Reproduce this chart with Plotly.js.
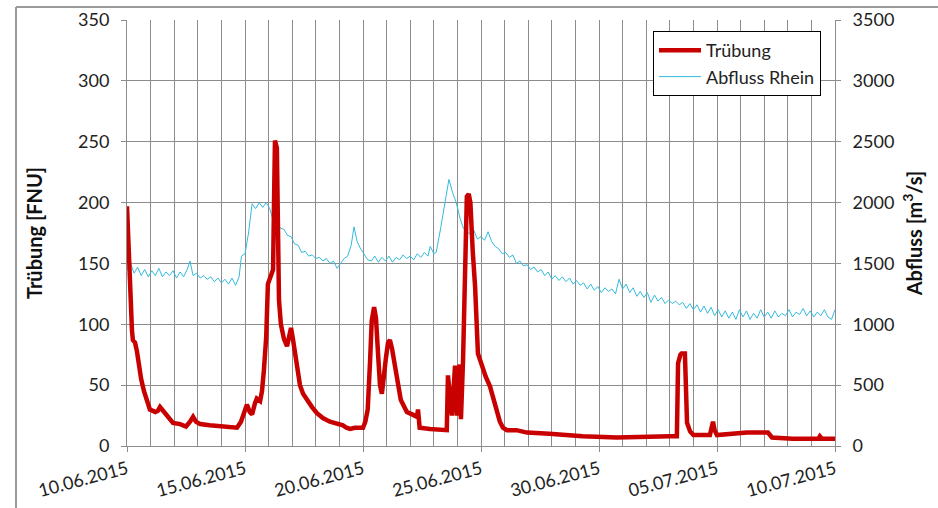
<!DOCTYPE html>
<html>
<head>
<meta charset="utf-8">
<script src="https://cdn.plot.ly/plotly-3.0.1.min.js"></script>
<style>
html,body{margin:0;padding:0;background:#fff;}
#chart{width:938px;height:508px;}
</style>
</head>
<body>
<div id="chart"></div>
<script>
// Start date of the series
const startDate = "2015-06-10";

// Trübung [FNU]: day offsets from 10.06.2015 and values
const truebungDays = [0.0,0.08,0.13,0.21,0.25,0.34,0.42,0.5,0.6,0.72,0.85,0.97,1.2,1.31,1.4,1.53,1.69,1.82,1.95,2.25,2.5,2.67,2.8,2.92,3.1,3.5,4.15,4.66,4.83,5.0,5.08,5.2,5.3,5.42,5.5,5.64,5.72,5.8,5.9,5.97,6.1,6.19,6.23,6.27,6.35,6.4,6.44,6.52,6.65,6.78,6.86,6.95,7.03,7.12,7.2,7.33,7.46,7.62,7.84,8.05,8.3,8.6,8.9,9.15,9.3,9.45,9.66,10.0,10.1,10.2,10.3,10.37,10.47,10.55,10.64,10.72,10.8,10.89,10.97,11.06,11.14,11.23,11.31,11.4,11.48,11.6,11.65,11.74,11.86,12.08,12.29,12.33,12.37,12.4,12.84,13.55,13.6,13.7,13.77,13.9,13.98,14.1,14.15,14.24,14.33,14.4,14.48,14.55,14.65,14.75,14.87,15.0,15.08,15.2,15.38,15.52,15.67,15.8,15.93,16.1,16.5,16.95,17.9,19.3,20.76,22.0,23.0,23.3,23.35,23.45,23.5,23.64,23.73,23.86,24.0,24.7,24.78,24.83,24.9,25.0,26.27,27.16,27.33,28.2,29.3,29.36,29.45,30.0];
const truebungValues = [197,160,120,95,87,85,78,65,55,45,37,30,28,29,32,29,26,22,19,18,16,20,24,20,18,17,16,15,20,30,34,28,26,35,39,37,45,62,90,133,140,145,200,251,245,180,120,100,88,82,90,97,88,75,62,50,43,38,32,27,23,20,18,17,15,14,15,15,20,30,70,103,114,105,75,50,43,55,72,85,87,80,70,57,48,38,36,32,28,26,24,30,20,15,14,13,58,40,25,66,25,67,22,71,150,205,207,200,160,131,76,68,64,57,49,40,30,20,15,13,13,11,10,8,7,8,8,8,68,75,76,76,19,12,9,9,15,20,13,9,11,11,7,6,6,8,6,6];

// Abfluss Rhein [m³/s]: day offsets from 10.06.2015 and values
const abflussDays = [0.0,0.15,0.3,0.45,0.6,0.75,0.9,1.05,1.2,1.35,1.5,1.65,1.8,1.95,2.1,2.25,2.4,2.55,2.67,2.8,2.95,3.1,3.25,3.4,3.55,3.7,3.85,4.0,4.15,4.3,4.45,4.6,4.75,4.85,5.0,5.15,5.3,5.45,5.6,5.75,5.9,6.05,6.2,6.35,6.5,6.65,6.8,6.95,7.1,7.25,7.4,7.55,7.7,7.85,8.0,8.15,8.3,8.45,8.6,8.75,8.9,9.05,9.2,9.35,9.5,9.62,9.75,9.9,10.05,10.2,10.35,10.5,10.65,10.8,10.95,11.1,11.25,11.4,11.55,11.7,11.85,12.0,12.15,12.3,12.45,12.6,12.75,12.85,13.0,13.1,13.3,13.5,13.64,13.8,13.95,14.1,14.25,14.4,14.55,14.7,14.85,15.0,15.15,15.3,15.45,15.6,15.75,15.9,16.05,16.2,16.35,16.5,16.65,16.8,16.95,17.1,17.25,17.4,17.55,17.7,17.85,18.0,18.15,18.3,18.45,18.6,18.75,18.9,19.05,19.2,19.35,19.5,19.65,19.8,19.95,20.1,20.25,20.4,20.55,20.7,20.85,21.0,21.15,21.3,21.45,21.6,21.75,21.9,22.05,22.2,22.35,22.5,22.65,22.8,22.95,23.1,23.25,23.4,23.55,23.7,23.85,24.0,24.15,24.3,24.45,24.6,24.75,24.9,25.05,25.2,25.35,25.5,25.65,25.8,25.95,26.1,26.25,26.4,26.55,26.7,26.85,27.0,27.15,27.3,27.45,27.6,27.75,27.9,28.05,28.2,28.35,28.5,28.65,28.8,28.95,29.1,29.25,29.4,29.55,29.7,29.85,30.0];
const abflussValues = [1450,1500,1420,1470,1400,1450,1390,1440,1400,1460,1390,1430,1400,1440,1380,1430,1390,1450,1520,1400,1420,1380,1400,1370,1390,1350,1380,1340,1370,1330,1380,1320,1390,1560,1580,1750,1990,1950,2000,1960,2000,1950,1850,1840,1790,1780,1730,1720,1660,1650,1590,1600,1560,1570,1540,1550,1520,1540,1500,1520,1460,1500,1540,1560,1650,1800,1680,1620,1580,1530,1520,1560,1510,1550,1520,1560,1510,1550,1530,1570,1540,1560,1530,1580,1550,1590,1560,1640,1580,1590,1800,2050,2190,2080,2000,1880,1790,1760,1740,1770,1700,1720,1690,1760,1680,1640,1620,1580,1590,1550,1570,1500,1520,1480,1490,1450,1470,1430,1450,1400,1430,1370,1400,1360,1390,1350,1380,1330,1360,1320,1340,1290,1330,1280,1310,1260,1300,1270,1290,1250,1370,1290,1330,1260,1300,1230,1270,1220,1260,1180,1240,1190,1220,1170,1200,1170,1190,1160,1180,1130,1170,1120,1160,1100,1150,1090,1140,1070,1120,1060,1110,1050,1100,1040,1120,1060,1110,1040,1090,1050,1120,1060,1100,1050,1110,1060,1090,1070,1120,1060,1100,1080,1130,1070,1110,1060,1100,1070,1120,1060,1040,1120];

// Axis tick settings
const xTickDays = 5;
const leftTicks = 50, leftMax = 350;
const rightTicks = 500, rightMax = 3500;

const DAY = 86400000;
const t0 = Date.UTC(2015, 5, 10);
function toDate(d) {
  return new Date(t0 + d * DAY).toISOString().replace('T', ' ').slice(0, 19);
}

const FONT = 'Lato, "Open Sans", sans-serif';
const GRID = '#8c8c8c';
const TICKFONT = {family: FONT, size: 18, color: '#222'};
const TITLEFONT = {family: FONT, size: 20, color: '#111', weight: 'bold'};

const traceTruebung = {
  x: truebungDays.map(toDate),
  y: truebungValues,
  name: 'Trübung',
  type: 'scatter',
  mode: 'lines',
  yaxis: 'y2',
  line: {color: '#C80000', width: 4.5},
  hoverinfo: 'x+y'
};
const traceAbfluss = {
  x: abflussDays.map(toDate),
  y: abflussValues,
  name: 'Abfluss Rhein',
  type: 'scatter',
  mode: 'lines',
  yaxis: 'y',
  line: {color: '#33BBDD', width: 1},
  hoverinfo: 'x+y'
};

// px -> paper helpers for the outer frame and legend placement
const L = 127, R = 835, T = 20, B = 446;
const px = v => (v - L) / (R - L);
const py = v => (B - v) / (B - T);

const layout = {
  width: 938,
  height: 508,
  margin: {l: 127, r: 103, t: 20, b: 62, pad: 0},
  paper_bgcolor: '#ffffff',
  plot_bgcolor: '#ffffff',
  font: {family: FONT, size: 18, color: '#222'},
  showlegend: true,
  xaxis: {
    type: 'date',
    range: [toDate(0), toDate(30)],
    tick0: startDate,
    dtick: xTickDays * DAY,
    tickformat: '%d.%m.%Y',
    tickangle: -15,
    ticks: 'outside',
    ticklen: 5,
    tickcolor: GRID,
    showgrid: true,
    gridcolor: GRID,
    gridwidth: 1,
    minor: {dtick: DAY, tick0: startDate, showgrid: true, gridcolor: GRID, gridwidth: 1, ticks: ''},
    showline: true,
    linecolor: GRID,
    linewidth: 1,
    zeroline: false,
    tickfont: TICKFONT
  },
  yaxis: {
    side: 'right',
    range: [0, rightMax],
    tick0: 0,
    dtick: rightTicks,
    ticks: 'outside',
    ticklen: 5,
    tickcolor: GRID,
    ticklabelstandoff: 8,
    showgrid: true,
    gridcolor: GRID,
    gridwidth: 1,
    showline: true,
    linecolor: GRID,
    zeroline: false,
    tickfont: TICKFONT,
    title: {text: '<b>Abfluss [m<sup>3</sup>/s]</b>', font: TITLEFONT, standoff: 14}
  },
  yaxis2: {
    overlaying: 'y',
    side: 'left',
    range: [0, leftMax],
    tick0: 0,
    dtick: leftTicks,
    ticks: 'outside',
    ticklen: 5,
    tickcolor: GRID,
    ticklabelstandoff: 8,
    showgrid: false,
    showline: true,
    linecolor: GRID,
    zeroline: false,
    tickfont: TICKFONT,
    title: {text: '<b>Trübung [FNU]</b>', font: TITLEFONT, standoff: 30}
  },
  legend: {
    x: px(653), y: py(31),
    xanchor: 'left', yanchor: 'top',
    bgcolor: '#ffffff',
    bordercolor: '#000000',
    borderwidth: 1,
    itemwidth: 42,
    tracegroupgap: 0,
    font: {family: FONT, size: 18, color: '#222'}
  },
  shapes: [
    {type: 'line', xref: 'paper', yref: 'paper', x0: px(16), x1: px(938), y0: py(7), y1: py(7), line: {color: '#9a9a9a', width: 2}},
    {type: 'line', xref: 'paper', yref: 'paper', x0: px(16), x1: px(16), y0: py(7), y1: py(508), line: {color: '#9a9a9a', width: 2}}
  ]
};

Plotly.newPlot('chart', [traceTruebung, traceAbfluss], layout, {displayModeBar: false, staticPlot: true});
</script>
</body>
</html>
